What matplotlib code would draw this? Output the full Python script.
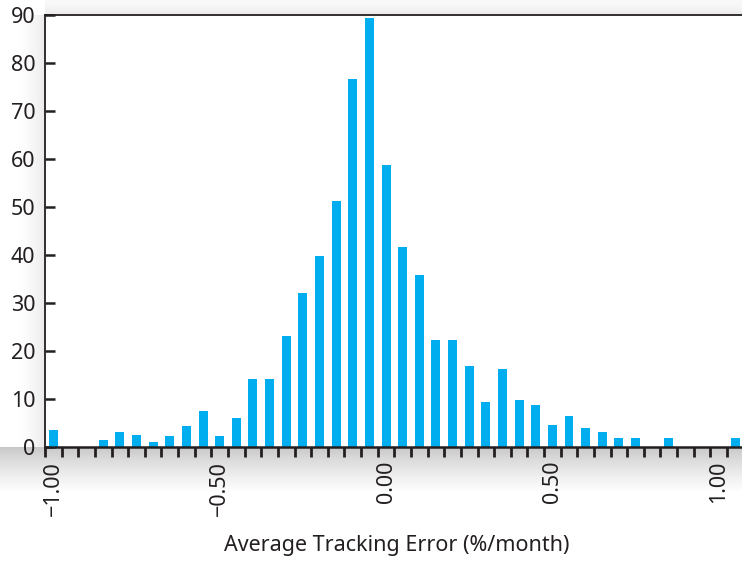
import matplotlib
matplotlib.use("Agg")
import matplotlib.pyplot as plt
import numpy as np

plt.rcParams['font.family'] = ['Noto Sans', 'DejaVu Sans']

# histogram bins (centre of each 0.05 bin) and heights, empty bins left out
bin_centers = [-1.00, -0.85, -0.80, -0.75, -0.70, -0.65, -0.60, -0.55, -0.50,
               -0.45, -0.40, -0.35, -0.30, -0.25, -0.20, -0.15, -0.10, -0.05,
               0.00, 0.05, 0.10, 0.15, 0.20, 0.25, 0.30, 0.35, 0.40, 0.45,
               0.50, 0.55, 0.60, 0.65, 0.70, 0.75, 0.85, 1.05]
counts = [3.5, 1.4, 3.1, 2.5, 1.0, 2.3, 4.4, 7.5, 2.3,
          6.0, 14.2, 14.2, 23.1, 32.1, 39.8, 51.3, 76.7, 89.4,
          58.8, 41.7, 35.9, 22.3, 22.3, 16.9, 9.4, 16.3, 9.8, 8.8,
          4.6, 6.5, 4.0, 3.1, 1.9, 1.9, 1.9, 1.9]

x_labels = ["\u22121.00", "\u22120.50", "0.00", "0.50", "1.00"]
x_label_pos = [-1.0, -0.5, 0.0, 0.5, 1.0]
y_ticks = [0, 10, 20, 30, 40, 50, 60, 70, 80, 90]

bar_color = "#00AEEF"
ink = "#231F20"
W, H = 742, 561
fs = 15.5

fig = plt.figure(figsize=(W / 100, H / 100), dpi=100)

# soft drop shadows round the plot box
bg = fig.add_axes([0, 0, 1, 1], zorder=0)
bg.axis("off")
g = np.linspace(0, 1, 64)
below = (0.78 + 0.22 * g ** 0.8)[:, None] * np.ones((1, 2))
bg.imshow(np.dstack([below] * 3), extent=(0, W, 492, 447), aspect="auto", interpolation="bilinear")
left = (1.0 - 0.08 * g ** 1.5)[None, :] * np.ones((2, 1))
bg.imshow(np.dstack([left] * 3), extent=(18, 45, 447, 15), aspect="auto", interpolation="bilinear")
top = (0.975 - 0.06 * g ** 2)[:, None] * np.ones((1, 2))
bg.imshow(np.dstack([top] * 3), extent=(45, W, 15, 0), aspect="auto", interpolation="bilinear")
bg.set_xlim(0, W)
bg.set_ylim(H, 0)

ax = fig.add_axes([45 / W, (H - 447) / H, (W - 45) / W, 432 / H], zorder=1)
ax.set_facecolor("white")
ax.bar(bin_centers, counts, width=0.027, color=bar_color, zorder=2)

ax.set_xlim(-1.025, 1.070)
ax.set_ylim(0, 90)

ax.spines["right"].set_visible(False)
ax.spines["bottom"].set_linewidth(1.8)
ax.spines["top"].set_linewidth(1.3)
ax.spines["left"].set_linewidth(1.3)
for s in ax.spines.values():
    s.set_color(ink)

ax.set_yticks(y_ticks)
ax.tick_params(axis="y", direction="in", length=7, width=1.8, color=ink,
               labelsize=fs, labelcolor=ink, pad=7)

ax.set_xticks(x_label_pos)
ax.set_xticklabels(x_labels, rotation=90)
ax.set_xticks(np.arange(-1.025, 1.03, 0.05), minor=True)
ax.tick_params(axis="x", which="major", length=0, labelsize=fs, labelcolor=ink, pad=10)
ax.tick_params(axis="x", which="minor", direction="out", length=7, width=2, color=ink)

ax.set_xlabel("Average Tracking Error (%/month)", fontsize=fs, color=ink)
ax.xaxis.set_label_coords(0.504, -0.229)
ax.xaxis.label.set_va("center")

fig.savefig("out.png", dpi=100)
